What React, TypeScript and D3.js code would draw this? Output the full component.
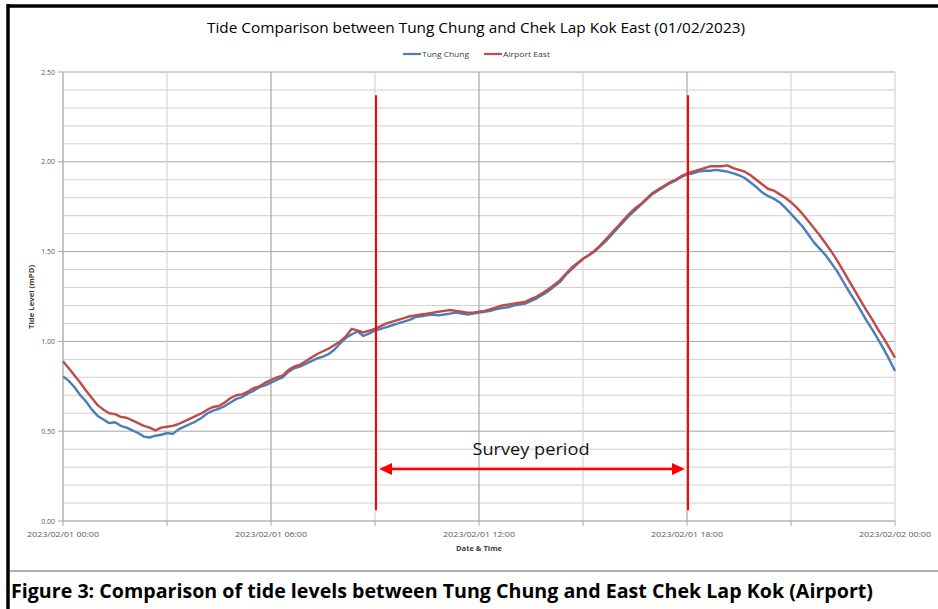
import React from "react";
import * as d3 from "d3";

// Tide levels (mPD), one reading every 10 minutes from 2023/02/01 00:00 to 2023/02/02 00:00
// (one row per hour)
const tungChung = [
  0.805, 0.78, 0.745, 0.7, 0.665, 0.62,
  0.585, 0.565, 0.545, 0.55, 0.53, 0.52,
  0.505, 0.49, 0.47, 0.465, 0.475, 0.48,
  0.49, 0.485, 0.51, 0.525, 0.54, 0.555,
  0.575, 0.6, 0.615, 0.625, 0.64, 0.66,
  0.68, 0.69, 0.71, 0.725, 0.745, 0.755,
  0.77, 0.785, 0.8, 0.83, 0.85, 0.86,
  0.875, 0.89, 0.905, 0.915, 0.93, 0.955,
  0.99, 1.02, 1.04, 1.055, 1.03, 1.045,
  1.06, 1.07, 1.08, 1.09, 1.1, 1.11,
  1.12, 1.135, 1.14, 1.145, 1.15, 1.145,
  1.15, 1.155, 1.16, 1.155, 1.15, 1.155,
  1.16, 1.165, 1.17, 1.18, 1.185, 1.19,
  1.2, 1.205, 1.21, 1.225, 1.24, 1.26,
  1.28, 1.305, 1.33, 1.37, 1.4, 1.43,
  1.46, 1.48, 1.5, 1.53, 1.56, 1.595,
  1.63, 1.665, 1.7, 1.73, 1.76, 1.79,
  1.82, 1.84, 1.86, 1.88, 1.895, 1.915,
  1.93, 1.935, 1.945, 1.95, 1.95, 1.955,
  1.95, 1.945, 1.935, 1.925, 1.91, 1.885,
  1.86, 1.83, 1.81, 1.795, 1.775, 1.745,
  1.71, 1.675, 1.64, 1.595, 1.55, 1.515,
  1.48, 1.435, 1.39, 1.335, 1.28, 1.23,
  1.175, 1.12, 1.07, 1.015, 0.96, 0.9,
  0.835,
];
const airportEast = [
  0.89, 0.85, 0.81, 0.77, 0.725, 0.685,
  0.645, 0.62, 0.6, 0.595, 0.58, 0.575,
  0.56, 0.545, 0.53, 0.52, 0.505, 0.52,
  0.525, 0.53, 0.54, 0.555, 0.57, 0.585,
  0.6, 0.62, 0.635, 0.64, 0.66, 0.685,
  0.7, 0.705, 0.72, 0.74, 0.75, 0.77,
  0.785, 0.8, 0.81, 0.84, 0.86, 0.87,
  0.89, 0.91, 0.93, 0.945, 0.96, 0.98,
  1.0, 1.03, 1.07, 1.06, 1.05, 1.06,
  1.07, 1.085, 1.1, 1.11, 1.12, 1.13,
  1.14, 1.145, 1.15, 1.155, 1.16, 1.165,
  1.17, 1.175, 1.17, 1.165, 1.16, 1.16,
  1.165, 1.17, 1.18, 1.19, 1.2, 1.205,
  1.21, 1.215, 1.22, 1.235, 1.25, 1.27,
  1.29, 1.315, 1.34, 1.375, 1.41, 1.435,
  1.46, 1.48, 1.505, 1.535, 1.57, 1.605,
  1.64, 1.675, 1.71, 1.74, 1.765, 1.795,
  1.825, 1.845, 1.865, 1.885, 1.9, 1.92,
  1.935, 1.945, 1.955, 1.965, 1.975, 1.975,
  1.975, 1.98, 1.965, 1.955, 1.945, 1.925,
  1.9, 1.875, 1.85, 1.84, 1.82, 1.8,
  1.775, 1.745, 1.71, 1.67, 1.63, 1.59,
  1.545, 1.5, 1.45, 1.395, 1.34, 1.285,
  1.23, 1.175, 1.125, 1.07, 1.02, 0.965,
  0.91,
];
const sampleMinutes = 10;

const xTickHours = [0, 6, 12, 18, 24];
const xTickLabels = [
  "2023/02/01 00:00",
  "2023/02/01 06:00",
  "2023/02/01 12:00",
  "2023/02/01 18:00",
  "2023/02/02 00:00",
];
const yTicks = [0, 0.5, 1.0, 1.5, 2.0, 2.5];

// survey window (hours) and arrow level (mPD)
const surveyHours = [9, 18];
const surveyLineLevels = [0.06, 2.37];
const surveyArrowLevel = 0.29;

const series = [
  { name: "Tung Chung", values: tungChung, color: "#4a7ebb" },
  { name: "Airport East", values: airportEast, color: "#be4b48" },
];

const W = 938;
const H = 609;
const margin = { left: 63, right: 43, top: 72, bottom: 88 };

export default function App() {
  const x = d3.scaleLinear().domain([0, 24]).range([margin.left, W - margin.right]);
  const y = d3.scaleLinear().domain([0, 2.5]).range([H - margin.bottom, margin.top]);

  const line = d3
    .line<number>()
    .x((_, i) => x((i * sampleMinutes) / 60))
    .y((d) => y(d));

  const minorY = d3.range(0, 26).map((k) => k / 10);
  const gridHours = d3.range(0, 25, 3);

  const arrowY = y(surveyArrowLevel);
  const ax0 = x(surveyHours[0]) + 4;
  const ax1 = x(surveyHours[1]) - 2;

  return (
    <svg
      width={W}
      height={H}
      style={{ position: "absolute", left: 0, top: 0, background: "#fff" }}
      fontFamily="'Open Sans', 'Noto Sans', sans-serif"
    >
      {/* frame */}
      <line x1={8} x2={W} y1={6} y2={6} stroke="#000" strokeWidth={3.5} />
      <line x1={8} x2={8} y1={4} y2={H} stroke="#000" strokeWidth={3.5} />
      <line x1={10} x2={W} y1={571} y2={571} stroke="#606060" strokeWidth={1.2} />

      <text x={476} y={33} textAnchor="middle" fontSize={14} fill="#000" textLength={538} lengthAdjust="spacingAndGlyphs">
        Tide Comparison between Tung Chung and Chek Lap Kok East (01/02/2023)
      </text>

      {/* legend */}
      <g fontSize={7} fill="#404040">
        <line x1={403} x2={421} y1={54} y2={54} stroke={series[0].color} strokeWidth={2.2} />
        <text x={422} y={56.5} textLength={47} lengthAdjust="spacingAndGlyphs">{series[0].name}</text>
        <line x1={484} x2={502} y1={54} y2={54} stroke={series[1].color} strokeWidth={2.2} />
        <text x={503} y={56.5} textLength={47} lengthAdjust="spacingAndGlyphs">{series[1].name}</text>
      </g>

      {/* horizontal grid */}
      {minorY.map((v) => (
        <line
          key={"h" + v}
          x1={margin.left}
          x2={W - margin.right}
          y1={y(v)}
          y2={y(v)}
          stroke={Math.round(v * 10) % 5 === 0 && v > 0 ? "#a6a6a6" : "#d0d0d0"}
          strokeWidth={1}
        />
      ))}
      {/* vertical grid */}
      {gridHours.map((h) => (
        <line
          key={"v" + h}
          x1={x(h)}
          x2={x(h)}
          y1={margin.top}
          y2={y(0)}
          stroke={h % 6 === 0 && h > 0 && h < 24 ? "#a6a6a6" : "#d4d4d4"}
          strokeWidth={1.2}
        />
      ))}
      {/* axes */}
      <line x1={x(0)} x2={x(0)} y1={margin.top} y2={y(0)} stroke="#a6a6a6" />
      <line x1={x(0)} x2={x(24)} y1={y(0)} y2={y(0)} stroke="#a6a6a6" />
      {yTicks.map((v) => (
        <g key={"yt" + v}>
          <line x1={x(0) - 5} x2={x(0)} y1={y(v)} y2={y(v)} stroke="#a6a6a6" />
          <text x={x(0) - 8} y={y(v) + 2.5} textAnchor="end" fontSize={7} fill="#595959">
            {v.toFixed(2)}
          </text>
        </g>
      ))}
      {gridHours.map((h) => (
        <line key={"xt" + h} x1={x(h)} x2={x(h)} y1={y(0)} y2={y(0) + 5} stroke="#a6a6a6" />
      ))}
      {xTickHours.map((h, i) => (
        <text key={"xl" + h} x={x(h)} y={y(0) + 16} textAnchor="middle" fontSize={7} fill="#595959" textLength={72} lengthAdjust="spacingAndGlyphs">
          {xTickLabels[i]}
        </text>
      ))}
      <text x={479} y={551} textAnchor="middle" fontSize={7} fontWeight="bold" fill="#404040" textLength={46} lengthAdjust="spacingAndGlyphs">
        Date &amp; Time
      </text>
      <text
        transform={`translate(34,297) rotate(-90)`}
        textAnchor="middle"
        fontSize={7}
        fontWeight="bold"
        fill="#404040"
        textLength={64}
        lengthAdjust="spacingAndGlyphs"
      >
        Tide Level (mPD)
      </text>

      {/* series */}
      {series.map((s) => (
        <path key={s.name} d={line(s.values) || ""} fill="none" stroke={s.color} strokeWidth={2.4} strokeLinejoin="round" />
      ))}

      {/* survey period annotation */}
      {surveyHours.map((h) => (
        <line key={"s" + h} x1={x(h) + 1} x2={x(h) + 1} y1={y(surveyLineLevels[1])} y2={y(surveyLineLevels[0])} stroke="#ff0000" strokeWidth={2} />
      ))}
      <line x1={ax0 + 8} x2={ax1 - 8} y1={arrowY} y2={arrowY} stroke="#ff0000" strokeWidth={2.5} />
      <polygon points={`${ax0},${arrowY} ${ax0 + 13},${arrowY - 6} ${ax0 + 13},${arrowY + 6}`} fill="#ff0000" />
      <polygon points={`${ax1},${arrowY} ${ax1 - 13},${arrowY - 6} ${ax1 - 13},${arrowY + 6}`} fill="#ff0000" />
      <text x={531} y={455} textAnchor="middle" fontSize={17} fill="#111" textLength={117} lengthAdjust="spacingAndGlyphs">
        Survey period
      </text>

      {/* caption */}
      <text x={11} y={598} fontSize={19} fontWeight="bold" fill="#000" textLength={862} lengthAdjust="spacingAndGlyphs">
        Figure 3: Comparison of tide levels between Tung Chung and East Chek Lap Kok (Airport)
      </text>
    </svg>
  );
}
